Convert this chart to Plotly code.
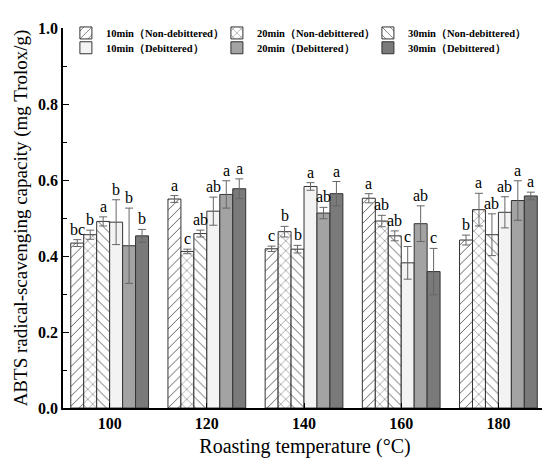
import plotly.graph_objects as go

temps = ["100", "120", "140", "160", "180"]

series_names = ["10min（Non-debittered）", "20min（Non-debittered）", "30min（Non-debittered）",
                "10min（Debittered）", "20min（Debittered）", "30min（Debittered）"]

nb10 = [0.434, 0.550, 0.419, 0.552, 0.442]
nb20 = [0.456, 0.412, 0.464, 0.492, 0.522]
nb30 = [0.491, 0.459, 0.418, 0.453, 0.456]
d10 = [0.489, 0.518, 0.583, 0.382, 0.515]
d20 = [0.427, 0.562, 0.513, 0.485, 0.546]
d30 = [0.453, 0.577, 0.564, 0.359, 0.558]

nb10_err = [0.009, 0.009, 0.007, 0.012, 0.013]
nb20_err = [0.012, 0.006, 0.014, 0.015, 0.043]
nb30_err = [0.012, 0.009, 0.010, 0.013, 0.055]
d10_err = [0.059, 0.037, 0.010, 0.043, 0.041]
d20_err = [0.099, 0.036, 0.015, 0.047, 0.052]
d30_err = [0.017, 0.026, 0.032, 0.061, 0.010]

nb10_sig = ["bc", "a", "c", "a", "b"]
nb20_sig = ["b", "c", "b", "ab", "a"]
nb30_sig = ["a", "ab", "b", "ab", "ab"]
d10_sig = ["b", "ab", "a", "c", "ab"]
d20_sig = ["b", "a", "ab", "ab", "a"]
d30_sig = ["b", "a", "a", "c", "a"]

values = [nb10, nb20, nb30, d10, d20, d30]
errors = [nb10_err, nb20_err, nb30_err, d10_err, d20_err, d30_err]
letters = [nb10_sig, nb20_sig, nb30_sig, d10_sig, d20_sig, d30_sig]

fills = ["white", "white", "white", "#f3f3f3", "#a3a3a3", "#7a7a7a"]
shapes = ["/", "x", "\\", "", "", ""]

serif = "Times New Roman, Liberation Serif, serif"
bargap = 0.2

fig = go.Figure()
for i in range(6):
    fig.add_trace(go.Bar(
        x=temps, y=values[i], name=series_names[i], showlegend=True,
        legend="legend" if i == 0 else "legend%d" % (i + 1),
        marker=dict(color=fills[i],
                    line=dict(color="#333333", width=1),
                    pattern=dict(shape=shapes[i], fgcolor="#444444", bgcolor="white",
                                 size=7, solidity=0.12, fgopacity=1)),
        error_y=dict(type="data", array=errors[i], color="#666666",
                     thickness=1, width=4),
    ))

# significance letters above the error bars
w = (1 - bargap) / 6
annotations = []
for i in range(6):
    for j in range(len(temps)):
        annotations.append(dict(
            x=j + (i - 2.5) * w, y=values[i][j] + errors[i][j],
            xref="x", yref="y", text=letters[i][j], showarrow=False,
            yanchor="bottom", yshift=0,
            font=dict(family=serif, size=16, color="black")))

# 2 rows x 3 columns of legend entries, one legend box each
leg_style = dict(xanchor="left", yanchor="middle",
                 font=dict(family=serif, size=10.5, color="black", weight="bold"),
                 bgcolor="rgba(0,0,0,0)", itemwidth=30)
col_x = [0.006, 0.318, 0.630]
row_y = [0.987, 0.948]
legends = {}
for i in range(6):
    key = "legend" if i == 0 else "legend%d" % (i + 1)
    legends[key] = dict(x=col_x[i % 3], y=row_y[i // 3], **leg_style)

fig.update_layout(
    width=550, height=462,
    margin=dict(l=55, r=11, t=10, b=62),
    paper_bgcolor="white", plot_bgcolor="white",
    barmode="group", bargap=bargap, bargroupgap=0,
    annotations=annotations,
    showlegend=True,
    font=dict(family=serif, color="black"),
    **legends,
)

fig.update_xaxes(
    type="category", range=[-0.48, 4.5], automargin=False,
    showline=True, linecolor="black", linewidth=1.5,
    ticks="inside", ticklen=5, tickcolor="black",
    tickfont=dict(family=serif, size=16, weight="bold"),
    title=dict(text="Roasting temperature (°C)", font=dict(family=serif, size=20), standoff=8),
    showgrid=False, zeroline=False,
)
fig.update_yaxes(
    range=[0, 1.0], dtick=0.2, tickformat=".1f", automargin=False,
    showline=True, linecolor="black", linewidth=1.5,
    ticks="inside", ticklen=6, tickcolor="black",
    minor=dict(ticks="inside", dtick=0.1, ticklen=4, tickcolor="black"),
    tickfont=dict(family=serif, size=16, weight="bold"),
    title=dict(text="ABTS radical-scavenging capacity (mg Trolox/g)", font=dict(family=serif, size=19), standoff=5),
    showgrid=False, zeroline=False,
)

fig.write_html("out.html")
